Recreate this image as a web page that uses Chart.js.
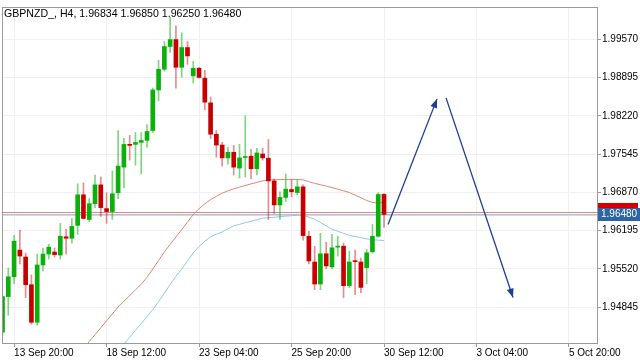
<!DOCTYPE html>
<html><head><meta charset="utf-8">
<script src="https://cdn.jsdelivr.net/npm/chart.js@4/dist/chart.umd.min.js"></script>
<style>html,body{margin:0;padding:0;background:#fff;}#wrap{width:640px;height:360px;}</style>
</head><body><div id="wrap"><canvas id="c" width="640" height="360"></canvas></div>
<script>
const symbol = 'GBPNZD_';
const timeframe = 'H4';
const opens = [1.94403,1.95031,1.95380,1.95851,1.95729,1.95240,1.94578,1.95589,1.95781,1.95816,
1.95764,1.96086,1.96060,1.96287,1.96827,1.96391,1.96670,1.97002,1.96583,1.96531,
1.96862,1.97315,1.97716,1.97716,1.97751,1.97786,1.97961,1.98676,1.99042,1.99443,
1.99565,1.99077,1.99425,1.98925,1.99059,1.98885,1.98449,1.97896,1.97704,1.97478,
1.97577,1.97298,1.97485,1.97507,1.97286,1.97547,1.97472,1.97071,1.96648,1.96780,
1.96920,1.96867,1.96967,1.96095,1.95641,1.95253,1.95786,1.95554,1.95903,1.95920,
1.95223,1.95659,1.95641,1.95542,1.95821,1.96095,1.96834];
const highs = [1.95049,1.95537,1.96112,1.96199,1.95798,1.95415,1.95781,1.95886,1.95955,1.95886,
1.96322,1.96217,1.96409,1.97019,1.97036,1.96757,1.97176,1.97141,1.96862,1.97246,
1.97961,1.97821,1.97873,1.97926,1.97926,1.98065,1.98710,1.99199,1.99530,1.99957,
1.99809,1.99687,1.99530,1.99181,1.99077,1.99024,1.98553,1.97961,1.97751,1.97664,
1.97699,1.97716,1.98222,1.97629,1.97647,1.97647,1.97804,1.97106,1.96880,1.97193,
1.97089,1.97089,1.97002,1.96182,1.95920,1.96147,1.95990,1.96130,1.96095,1.95973,
1.95833,1.95851,1.95711,1.95868,1.96304,1.96862,1.96850];
const lows = [1.94351,1.94700,1.95258,1.95607,1.95014,1.94543,1.94526,1.95485,1.95694,1.95729,
1.95694,1.95781,1.95973,1.96130,1.96400,1.96356,1.96601,1.96444,1.96322,1.96391,
1.96757,1.96949,1.97438,1.97350,1.97193,1.97664,1.97926,1.98484,1.99007,1.99338,
1.98710,1.98902,1.99129,1.98798,1.98885,1.98327,1.97821,1.97490,1.97333,1.97368,
1.97176,1.97124,1.97141,1.97106,1.97176,1.97438,1.96391,1.96496,1.96391,1.96705,
1.96792,1.96827,1.96025,1.95607,1.95153,1.95153,1.95519,1.95519,1.95746,1.95014,
1.95188,1.95066,1.95101,1.95258,1.95798,1.96077,1.96250];
const closes = [1.95031,1.95380,1.96008,1.95746,1.95240,1.94578,1.95589,1.95781,1.95903,1.95772,
1.96095,1.96060,1.96269,1.96827,1.96409,1.96670,1.97002,1.96601,1.96531,1.96845,
1.97333,1.97716,1.97699,1.97751,1.97786,1.97943,1.98676,1.99042,1.99443,1.99565,
1.99077,1.99425,1.99277,1.99059,1.98897,1.98461,1.97896,1.97704,1.97478,1.97577,
1.97315,1.97478,1.97502,1.97286,1.97565,1.97478,1.97071,1.96648,1.96780,1.96927,
1.96880,1.96967,1.96107,1.95659,1.95253,1.95786,1.95572,1.95891,1.95920,1.95223,
1.95641,1.95647,1.95193,1.95804,1.96095,1.96832,1.96480];
const maRed = [null,null,null,null,null,null,null,null,null,null,null,null,null,
1.93990,1.94114,1.94236,1.94358,1.94480,1.94604,1.94726,
1.94846,1.94949,1.95049,1.95150,1.95249,1.95371,1.95519,1.95668,1.95819,1.95952,
1.96083,1.96212,1.96344,1.96480,1.96580,1.96667,1.96742,1.96799,1.96855,1.96897,
1.96932,1.96963,1.96991,1.97019,1.97045,1.97071,1.97085,1.97092,1.97096,1.97097,
1.97097,1.97097,1.97089,1.97057,1.97028,1.97005,1.96981,1.96953,1.96927,1.96897,
1.96867,1.96822,1.96775,1.96726,1.96693,1.96679,1.96696];
const maBlue = [null,null,null,null,null,null,null,null,null,null,
null,null,null,null,null,null,null,null,null,null,
1.94063,1.94189,1.94311,1.94435,1.94555,1.94679,1.94801,1.94941,1.95092,1.95242,
1.95390,1.95514,1.95659,1.95805,1.95912,1.96008,1.96084,1.96130,1.96172,1.96229,
1.96278,1.96306,1.96334,1.96360,1.96388,1.96414,1.96423,1.96431,1.96440,1.96449,
1.96458,1.96466,1.96470,1.96433,1.96395,1.96339,1.96278,1.96219,1.96182,1.96147,
1.96112,1.96091,1.96070,1.96050,1.96034,1.96027,1.96020];
const tickBars = [2,18,34,50,66,82,98];
const tickLabels = ['13 Sep 20:00','18 Sep 12:00','23 Sep 04:00','25 Sep 20:00','30 Sep 12:00','3 Oct 04:00','5 Oct 20:00'];
const yTicks = [1.94845,1.95520,1.96195,1.96870,1.97545,1.98220,1.98895,1.99570];
const bidPrice = 1.96480;
const askPrice = 1.96522;
const arrowUpX = [66.70, 75.17];
const arrowUpY = [1.96304, 1.98519];
const arrowDownX = [76.73, 88.32];
const arrowDownY = [1.98536, 1.95014];

const GREEN = '#0bb00b', RED = '#c80000';
const GREEN_W = 'rgba(0,170,0,0.5)', RED_W = 'rgba(200,0,0,0.45)';
const FRAME = '#9a9a9a';
const FONT = 'Liberation Sans';
const up = i => closes[i] >= opens[i];

const mt4 = {
  id: 'mt4',
  beforeDatasetsDraw(chart) {
    const {ctx, chartArea: a, scales: {y}} = chart;
    ctx.save();
    ctx.beginPath(); ctx.rect(a.left, a.top, a.right - a.left, a.bottom - a.top); ctx.clip();
    const by = Math.round(y.getPixelForValue(bidPrice)), ay = Math.round(y.getPixelForValue(askPrice));
    ctx.lineWidth = 1;
    ctx.strokeStyle = '#d98a8a';
    ctx.beginPath(); ctx.moveTo(a.left, ay + 0.5); ctx.lineTo(a.right, ay + 0.5); ctx.stroke();
    ctx.strokeStyle = '#b9c2d2';
    ctx.beginPath(); ctx.moveTo(a.left, by + 0.5); ctx.lineTo(a.right, by + 0.5); ctx.stroke();
    ctx.strokeStyle = '#d3d9e4';
    ctx.beginPath(); ctx.moveTo(a.left, by + 1.5); ctx.lineTo(a.right, by + 1.5); ctx.stroke();
    ctx.restore();
  },
  afterDatasetsDraw(chart) {
    const {ctx} = chart;
    chart.data.datasets.forEach((ds, idx) => {
      if (!ds.isArrow) return;
      const pts = chart.getDatasetMeta(idx).data;
      const p0 = pts[pts.length - 2], p1 = pts[pts.length - 1];
      const ang = Math.atan2(p1.y - p0.y, p1.x - p0.x);
      const L = 9, W = 3.5;
      ctx.save();
      ctx.fillStyle = ds.borderColor;
      ctx.translate(p1.x, p1.y); ctx.rotate(ang);
      ctx.beginPath(); ctx.moveTo(0, 0); ctx.lineTo(-L, -W); ctx.lineTo(-L, W); ctx.closePath(); ctx.fill();
      ctx.restore();
    });
  },
  afterDraw(chart) {
    const {ctx, chartArea: a, scales: {y}} = chart;
    ctx.save();
    ctx.strokeStyle = FRAME; ctx.lineWidth = 1;
    ctx.strokeRect(a.left + 0.5, a.top + 0.5, a.right - a.left, a.bottom - a.top);
    const n = closes.length - 1;
    const title = symbol + ', ' + timeframe + ', ' + [opens[n], highs[n], lows[n], closes[n]].map(v => v.toFixed(5)).join(' ');
    ctx.fillStyle = '#000'; ctx.font = '10.6px "' + FONT + '"';
    ctx.textBaseline = 'alphabetic'; ctx.textAlign = 'left';
    ctx.fillText(title, a.left + 2, a.top + 10);
    const by = Math.round(y.getPixelForValue(bidPrice)), ay = Math.round(y.getPixelForValue(askPrice));
    ctx.fillStyle = '#d40000';
    ctx.fillRect(a.right + 1, ay - 9, 40, 13);
    ctx.fillStyle = '#2d64a4';
    ctx.fillRect(a.right + 1, by - 6, 42, 13);
    ctx.fillStyle = '#fff'; ctx.textBaseline = 'middle'; ctx.font = '10px "' + FONT + '"';
    ctx.fillText(bidPrice.toFixed(5), a.right + 4, by + 0.5);
    ctx.restore();
  }
};

const idx = opens.map((_, i) => i);
new Chart(document.getElementById('c'), {
  type: 'bar',
  data: {
    datasets: [
      {type: 'line', label: 'Up', isArrow: true, data: arrowUpX.map((x, i) => ({x, y: arrowUpY[i]})), borderColor: '#1d3f93', borderWidth: 1.3, pointRadius: 0, order: 0},
      {type: 'line', label: 'Down', isArrow: true, data: arrowDownX.map((x, i) => ({x, y: arrowDownY[i]})), borderColor: '#1d3f93', borderWidth: 1.3, pointRadius: 0, order: 0},
      {label: 'Body', data: idx.map(i => ({x: i, y: [opens[i], closes[i]]})), backgroundColor: c => up(c.dataIndex) ? GREEN : RED, barThickness: 4, grouped: false, minBarLength: 1, order: 1},
      {label: 'Wick', data: idx.map(i => ({x: i, y: [lows[i], highs[i]]})), backgroundColor: c => up(c.dataIndex) ? GREEN_W : RED_W, barThickness: 1, grouped: false, order: 2},
      {type: 'line', label: 'MA1', data: idx.map(i => ({x: i, y: maRed[i]})), borderColor: '#e08574', borderWidth: 1, pointRadius: 0, order: 3},
      {type: 'line', label: 'MA2', data: idx.map(i => ({x: i, y: maBlue[i]})), borderColor: '#8ec8ea', borderWidth: 1, pointRadius: 0, order: 3}
    ]
  },
  options: {
    responsive: false, animation: false, devicePixelRatio: 1,
    layout: {padding: {left: 2, top: 3, right: 0, bottom: 0}},
    plugins: {legend: {display: false}, tooltip: {enabled: false}},
    scales: {
      x: {
        type: 'linear', min: -0.09, max: 102.85, offset: false,
        afterBuildTicks: s => { s.ticks = tickBars.map(v => ({value: v})); },
        afterFit: s => { s.height = 17; },
        border: {color: FRAME},
        grid: {color: '#f0f0f0', offset: false, tickLength: 4, tickColor: FRAME},
        ticks: {autoSkip: false, maxRotation: 0, align: 'start', padding: 0, color: '#000', font: {family: FONT, size: 10},
          callback: v => { const k = tickBars.indexOf(v); return k >= 0 ? tickLabels[k] : ''; }}
      },
      y: {
        type: 'linear', position: 'right', min: 1.94212, max: 2.00140,
        afterBuildTicks: s => { s.ticks = yTicks.map(v => ({value: v})); },
        afterFit: s => { s.width = 43; },
        border: {color: FRAME},
        grid: {color: '#f0f0f0', tickLength: 4, tickColor: FRAME},
        ticks: {autoSkip: false, padding: 1, color: '#000', font: {family: FONT, size: 10}, callback: v => Number(v).toFixed(5)}
      }
    }
  },
  plugins: [mt4]
});
</script></body></html>
